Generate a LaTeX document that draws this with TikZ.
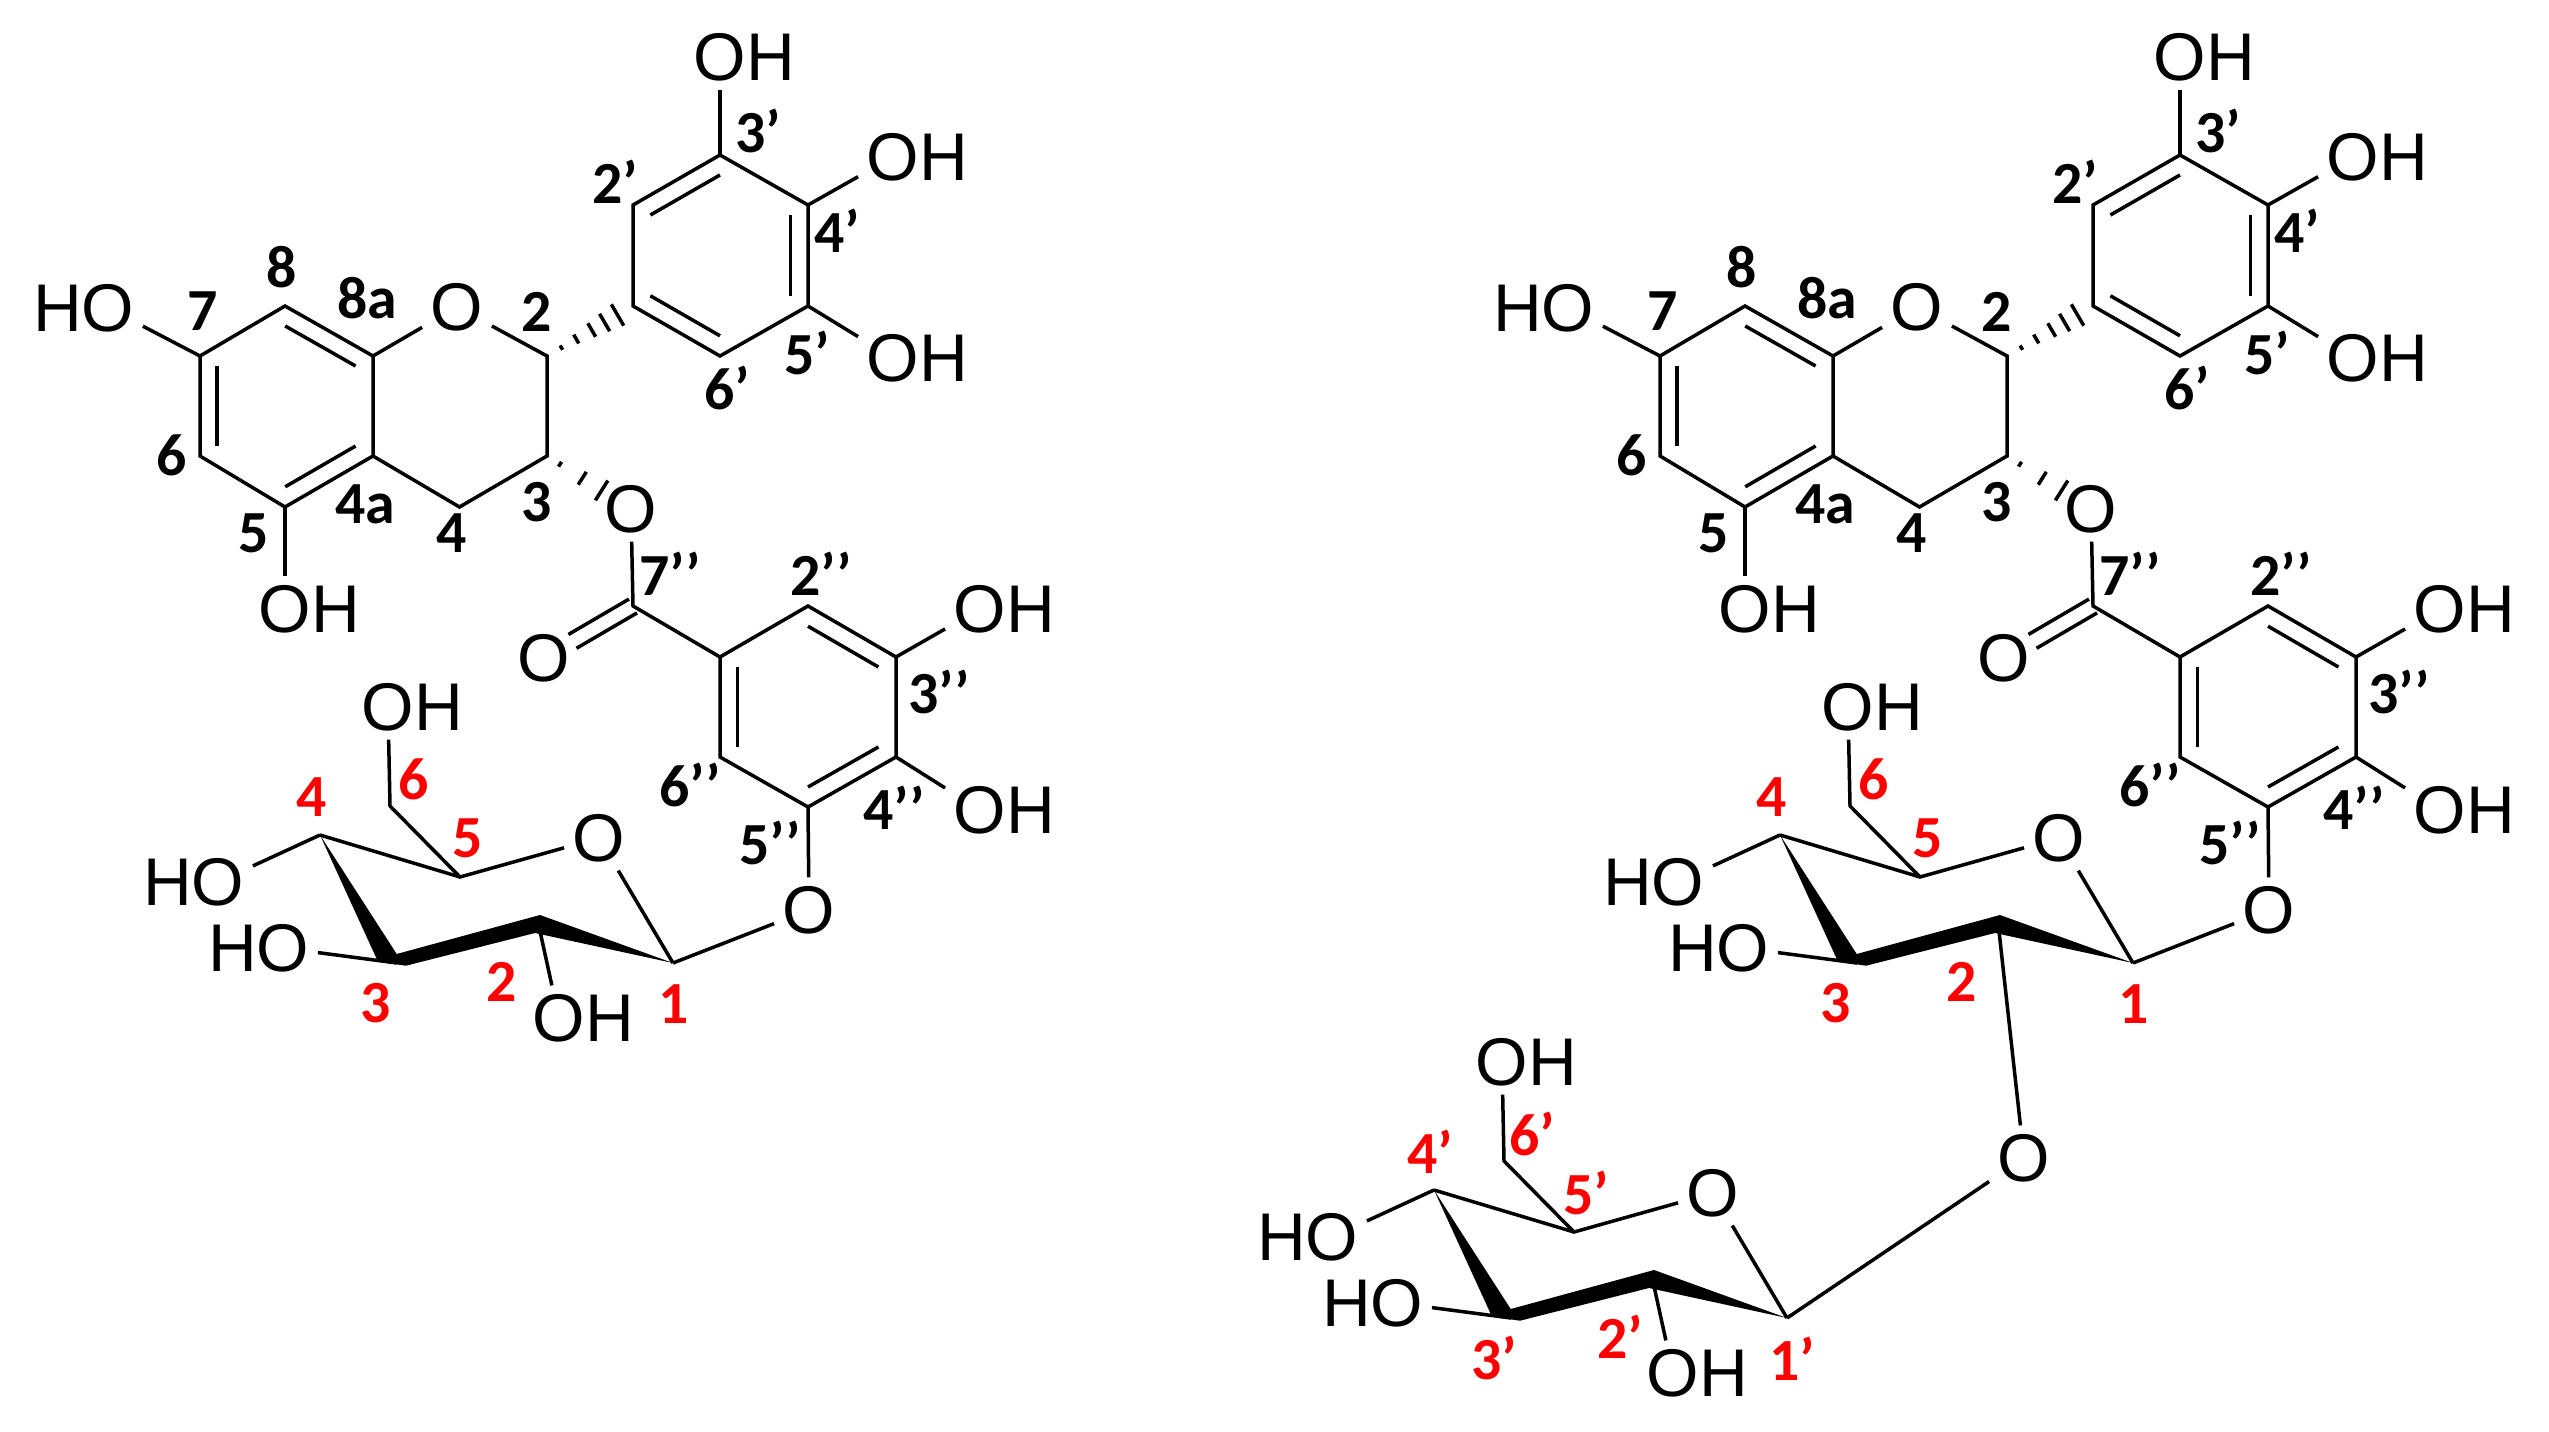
\documentclass[tikz,border=0pt]{standalone}
\usepackage{fontspec}
\setmainfont{Liberation Sans}
\newfontfamily\lblfont{Carlito}
\usetikzlibrary{calc}
\tikzset{
	atom/.style={font=\fontsize{19.2}{21}\selectfont, inner sep=0.08cm},
	num/.style={font=\lblfont\bfseries\fontsize{17}{19}\selectfont, inner sep=0pt},
	redno/.style={num, text=red},
	bond/.style={line width=0.035cm},
	hash/.style={line width=0.035cm}
}
\newcommand\ringdbl[3]{\draw[bond] ($(#1)!0.2!(#3)$) -- ($(#2)!0.2!(#3)$);}
\newcommand\hashbond[4]{\foreach \hpos in {#3} {\draw[hash] ($(#1)!\hpos!(#2)!{#4*\hpos*1cm}!90:(#2)$) -- ($(#1)!\hpos!(#2)!{#4*\hpos*1cm}!-90:(#2)$);}}
% flavan part with the gallate ring
\newcommand\flavancore{
	\coordinate (c3p) at (7.20, 1.55);
	\coordinate (c2p) at (6.33, 2.05);
	\coordinate (c4p) at (8.08, 2.05);
	\coordinate (c1p) at (6.33, 3.06);
	\coordinate (c5p) at (8.08, 3.06);
	\coordinate (c6p) at (7.20, 3.56);
	\coordinate (cenb) at (7.20, 2.55);
	\coordinate (c2) at (5.47, 3.56);
	\coordinate (c3) at (5.47, 4.56);
	\coordinate (c4) at (4.595, 5.07);
	\coordinate (c4a) at (3.73, 4.56);
	\coordinate (c8a) at (3.73, 3.56);
	\coordinate (c8) at (2.85, 3.06);
	\coordinate (c7) at (2.00, 3.56);
	\coordinate (c6) at (2.00, 4.56);
	\coordinate (c5) at (2.85, 5.07);
	\coordinate (cena) at (2.86, 4.06);
	\coordinate (c7pp) at (6.33, 6.06);
	\coordinate (c1pp) at (7.20, 6.57);
	\coordinate (c2pp) at (8.08, 6.06);
	\coordinate (c3pp) at (8.96, 6.57);
	\coordinate (c4pp) at (8.96, 7.57);
	\coordinate (c5pp) at (8.08, 8.07);
	\coordinate (c6pp) at (7.20, 7.57);
	\coordinate (cenc) at (8.08, 7.07);
	
	\node[atom] (o3p) at (7.20, 0.57) {O\rlap{H}};
	\node[atom] (o4p) at (8.93, 1.57) {O\rlap{H}};
	\node[atom] (o5p) at (8.93, 3.58) {O\rlap{H}};
	\node[atom] (o1) at (4.57, 3.07) {O};
	\node[atom] (o7) at (1.08, 3.08) {\llap{H}O};
	\node[atom] (o5) at (2.85, 6.09) {O\rlap{H}};
	\node[atom] (oe) at (6.31, 5.09) {O};
	\node[atom] (oc) at (5.44, 6.58) {O};
	\node[atom] (o3pp) at (9.80, 6.09) {O\rlap{H}};
	\node[atom] (o4pp) at (9.80, 8.10) {O\rlap{H}};
	\node[atom] (ol) at (8.09, 9.10) {O};
	
	\draw[bond] (c3p) -- (c2p) -- (c1p) -- (c6p) -- (c5p) -- (c4p) -- cycle;
	\ringdbl{c3p}{c2p}{cenb}
	\ringdbl{c4p}{c5p}{cenb}
	\ringdbl{c1p}{c6p}{cenb}
	\draw[bond] (c3p) -- (o3p);
	\draw[bond] (c4p) -- (o4p);
	\draw[bond] (c5p) -- (o5p);
	
	\draw[bond] (c8a) -- (c8) -- (c7) -- (c6) -- (c5) -- (c4a) -- cycle;
	\ringdbl{c8}{c8a}{cena}
	\ringdbl{c7}{c6}{cena}
	\ringdbl{c5}{c4a}{cena}
	\draw[bond] (c7) -- (o7);
	\draw[bond] (c5) -- (o5);
	\draw[bond] (c8a) -- (o1) -- (c2) -- (c3) -- (c4) -- (c4a);
	\hashbond{c2}{c1p}{0.167,0.34,0.52,0.67,0.82}{0.15}
	\hashbond{c3}{oe}{0.155,0.42,0.65}{0.18}
	
	\draw[bond] (oe) -- (c7pp) -- (c1pp) -- (c2pp) -- (c3pp) -- (c4pp) -- (c5pp) -- (c6pp) -- (c1pp);
	\ringdbl{c2pp}{c3pp}{cenc}
	\ringdbl{c1pp}{c6pp}{cenc}
	\ringdbl{c4pp}{c5pp}{cenc}
	\draw[bond, shorten >=0.33cm] ($(c7pp)!0.08cm!90:(oc)$) -- ($(oc)!0.08cm!-90:(c7pp)$);
	\draw[bond, shorten >=0.33cm] ($(c7pp)!0.08cm!-90:(oc)$) -- ($(oc)!0.08cm!90:(c7pp)$);
	\draw[bond] (c3pp) -- (o3pp);
	\draw[bond] (c4pp) -- (o4pp);
	\draw[bond] (c5pp) -- (ol);
	
	\node[num] (n3p) at (7.58, 1.31) {3’};
	\node[num] (n2p) at (6.15, 1.82) {2’};
	\node[num] (n4p) at (8.37, 2.31) {4’};
	\node[num] (n5p) at (8.07, 3.53) {5’};
	\node[num] (n6p) at (7.27, 3.88) {6’};
	\node[num] (n8) at (2.82, 2.67) {8};
	\node[num] (n7) at (2.03, 3.11) {7};
	\node[num] (n8a) at (3.67, 2.98) {8a};
	\node[num] (n2) at (5.37, 3.12) {2};
	\node[num] (n6) at (1.72, 4.55) {6};
	\node[num] (n5) at (2.54, 5.33) {5};
	\node[num] (n4a) at (3.65, 5.04) {4a};
	\node[num] (n3) at (5.37, 5.02) {3};
	\node[num] (n4) at (4.52, 5.33) {4};
	\node[num] (n7pp) at (6.70, 5.74) {7’’};
	\node[num] (n2pp) at (8.21, 5.74) {2’’};
	\node[num] (n3pp) at (9.39, 6.92) {3’’};
	\node[num] (n6pp) at (6.90, 7.85) {6’’};
	\node[num] (n4pp) at (8.94, 8.08) {4’’};
	\node[num] (n5pp) at (7.70, 8.43) {5’’};
}
% sugar ring, #1 is the prime of its numbers
\newcommand\sugarcore[1]{
	\coordinate (c1) at (6.73, 9.63);
	\coordinate (c2) at (5.38, 9.22);
	\coordinate (c3) at (3.97, 9.63);
	\coordinate (c4) at (3.20, 8.35);
	\coordinate (c5) at (4.60, 8.77);
	\coordinate (c6) at (3.90, 8.06);
	
	\node[atom] (o5) at (5.99, 8.38) {O};
	\node[atom] (o6) at (3.88, 7.07) {O\rlap{H}};
	\node[atom] (o4) at (2.18, 8.82) {\llap{H}O};
	\node[atom] (o3) at (2.83, 9.48) {\llap{H}O};
	
	\fill (c4) -- (3.967, 9.54) -- (5.40, 9.15) -- (c1) -- (5.35, 9.33) -- (4.06, 9.657) -- (3.78, 9.617) -- cycle;
	\draw[bond] (c4) -- (c5) -- (o5) -- (c1);
	\draw[bond] (c5) -- (c6) -- (o6);
	\draw[bond] (c4) -- (o4);
	\draw[bond] (c3) -- (o3);
	
	\node[redno] (n1) at (6.74, 10.04) {1#1};
	\node[redno] (n2) at (5.02, 9.82) {2#1};
	\node[redno] (n3) at (3.76, 10.03) {3#1};
	\node[redno] (n4) at (3.12, 7.97) {4#1};
	\node[redno] (n5) at (4.68, 8.38) {5#1};
	\node[redno] (n6) at (4.14, 7.79) {6#1};
}

\begin{document}
\begin{tikzpicture}[x=1cm, y=-1cm]
	\useasboundingbox (0, 0) rectangle (25.49, 14.32);
	%%%%% LEFT %%%%%
	\begin{scope}[name prefix=L-]
		\flavancore
		\sugarcore{}
		\node[atom] (o2) at (5.59, 10.18) {O\rlap{H}};
		\draw[bond] (c2) -- (o2);
	\end{scope}
	\draw[bond] (L-c1) -- (L-ol);
	
	%%%%% RIGHT %%%%%
	\begin{scope}[shift={(14.60, 0)}, name prefix=R-]
		\flavancore
		\sugarcore{}
	\end{scope}
	\draw[bond] (R-c1) -- (R-ol);
	
	\begin{scope}[shift={(11.14, 3.55)}, name prefix=S-, redno/.append style={xshift=0.04cm}]
		\sugarcore{’}
		\node[atom] (o2) at (5.59, 10.18) {O\rlap{H}};
		\draw[bond] (c2) -- (o2);
	\end{scope}
	\node[atom] (olink) at (20.24, 11.58) {O};
	\draw[bond] (R-c2) -- (olink) -- (S-c1);
\end{tikzpicture}
\end{document}
